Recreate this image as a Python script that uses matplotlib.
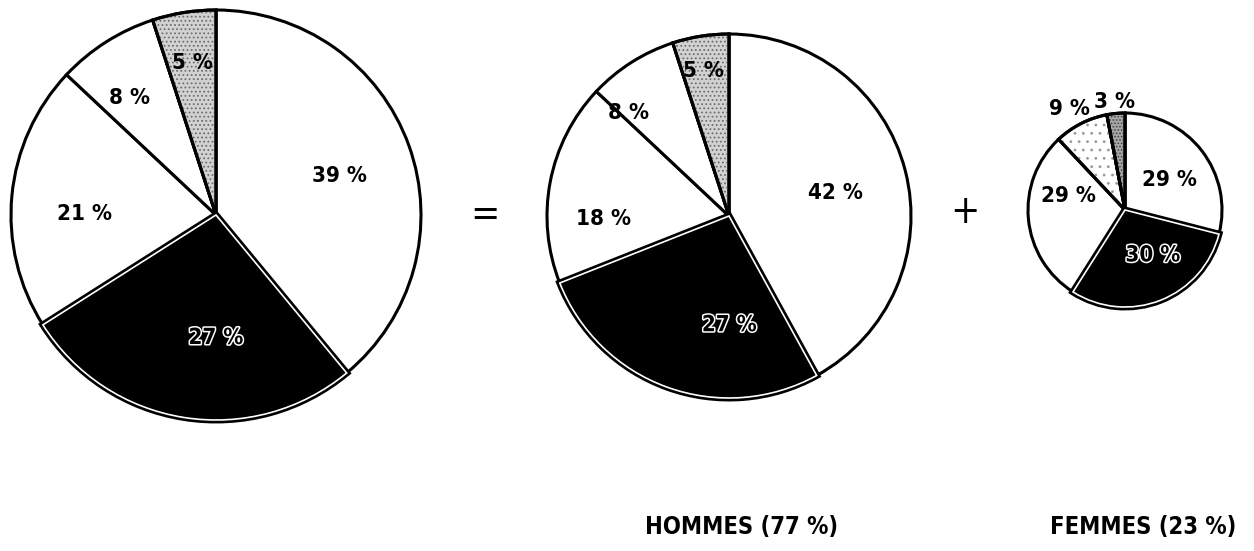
import matplotlib
matplotlib.use("Agg")
import matplotlib.pyplot as plt
import matplotlib.patheffects as pe
from matplotlib.patches import Wedge
from matplotlib import font_manager
import numpy as np

W, H = 1254, 551

# Shares in percent, clockwise from 12 o'clock
total_shares = [39, 27, 21, 8, 5]
hommes_shares = [42, 27, 18, 8, 5]
femmes_shares = [29, 30, 29, 9, 3]
pie_titles = ["", "HOMMES (77 %)", "FEMMES (23 %)"]

# Fill style of each slice
total_fills = ["white", "black", "white", "white", "stipple"]
hommes_fills = ["white", "black", "white", "white", "stipple"]
femmes_fills = ["white", "black", "white", "light", "dark"]

# Layout (pixels, y measured from top)
pie_centers = [(216, 215), (729, 216), (1125, 210)]
pie_radii = [205, 182, 97]
title_pos = [None, (742, 527), (1143, 527)]
label_radius = [
    [0.63, 0.60, 0.64, 0.71, 0.75],
    [0.60, 0.60, 0.69, 0.79, 0.81],
    [0.55, 0.55, 0.60, 1.19, 1.12],
]
label_shift = [
    [-2, 9, 5, 4, 0],
    [-2, 20, 12, 12, 1],
    [-4, 10, -19, 2, 0],
]

names = {f.name for f in font_manager.fontManager.ttflist}
if "Liberation Sans Narrow" in names:
    FAMILY, STRETCH = ["Liberation Sans Narrow", "DejaVu Sans"], "normal"
else:
    FAMILY, STRETCH = ["DejaVu Sans"], "condensed"

fig = plt.figure(figsize=(W / 100, H / 100), dpi=100)
ax = fig.add_axes([0, 0, 1, 1])

stipple = {
    "stipple": ("#d2d2d2", "#6e6e6e", "...."),
    "light": ("white", "#9a9a9a", ".."),
    "dark": ("#a8a8a8", "#454545", "....."),
}
plt.rcParams["hatch.linewidth"] = 0.8

groups = [(total_shares, total_fills), (hommes_shares, hommes_fills),
          (femmes_shares, femmes_fills)]

for gi, (shares, fills) in enumerate(groups):
    px, py = pie_centers[gi]
    cx, cy = px, H - py
    r = pie_radii[gi]
    faces = ["black" if f == "black" else stipple[f][0] if f in stipple else "white"
             for f in fills]
    wedges, _ = ax.pie(shares, colors=faces, startangle=90, counterclock=False,
                       radius=r, center=(cx, cy), frame=True,
                       wedgeprops=dict(edgecolor="black", linewidth=2.2))
    for w, f, val, rf, sh in zip(wedges, fills, shares,
                                 label_radius[gi], label_shift[gi]):
        if f in stipple:
            face, hc, hatch = stipple[f]
            ov = Wedge(w.center, w.r, w.theta1, w.theta2, facecolor="none",
                       edgecolor=hc, linewidth=0, hatch=hatch,
                       zorder=w.get_zorder() + 0.1)
            ax.add_patch(ov)
            edge = Wedge(w.center, w.r, w.theta1, w.theta2, facecolor="none",
                         edgecolor="black", linewidth=2.2,
                         zorder=w.get_zorder() + 0.2)
            ax.add_patch(edge)
        if f == "black":
            w.set_edgecolor("white")
            w.set_linewidth(1.2)
            w.set_path_effects([pe.Stroke(linewidth=5, foreground="black"), pe.Normal()])
            w.set_zorder(w.get_zorder() + 0.5)
        mid = np.deg2rad((w.theta1 + w.theta2) / 2 + sh)
        tx = cx + rf * r * np.cos(mid)
        ty = cy + rf * r * np.sin(mid)
        kw = dict(ha="center", va="center", fontsize=16, fontweight="bold",
                  family=FAMILY, fontstretch=STRETCH, zorder=5)
        if f == "black":
            ax.text(tx, ty, f"{val} %", color="black",
                    path_effects=[pe.withStroke(linewidth=2.2, foreground="white")], **kw)
        else:
            ax.text(tx, ty, f"{val} %", color="black", **kw)

    if pie_titles[gi]:
        tx, ty = title_pos[gi]
        ax.text(tx, H - ty, pie_titles[gi], ha="center", va="center",
                fontsize=17, fontweight="bold", family=FAMILY, fontstretch=STRETCH)

ax.text(485, H - 215, "=", ha="center", va="center", fontsize=28,
        family=FAMILY, fontstretch=STRETCH)
ax.text(965, H - 212, "+", ha="center", va="center", fontsize=28,
        family=FAMILY, fontstretch=STRETCH)

ax.set_xlim(0, W)
ax.set_ylim(0, H)
ax.set_aspect("equal")
ax.axis("off")

fig.savefig("out.png", dpi=100, facecolor="white")
